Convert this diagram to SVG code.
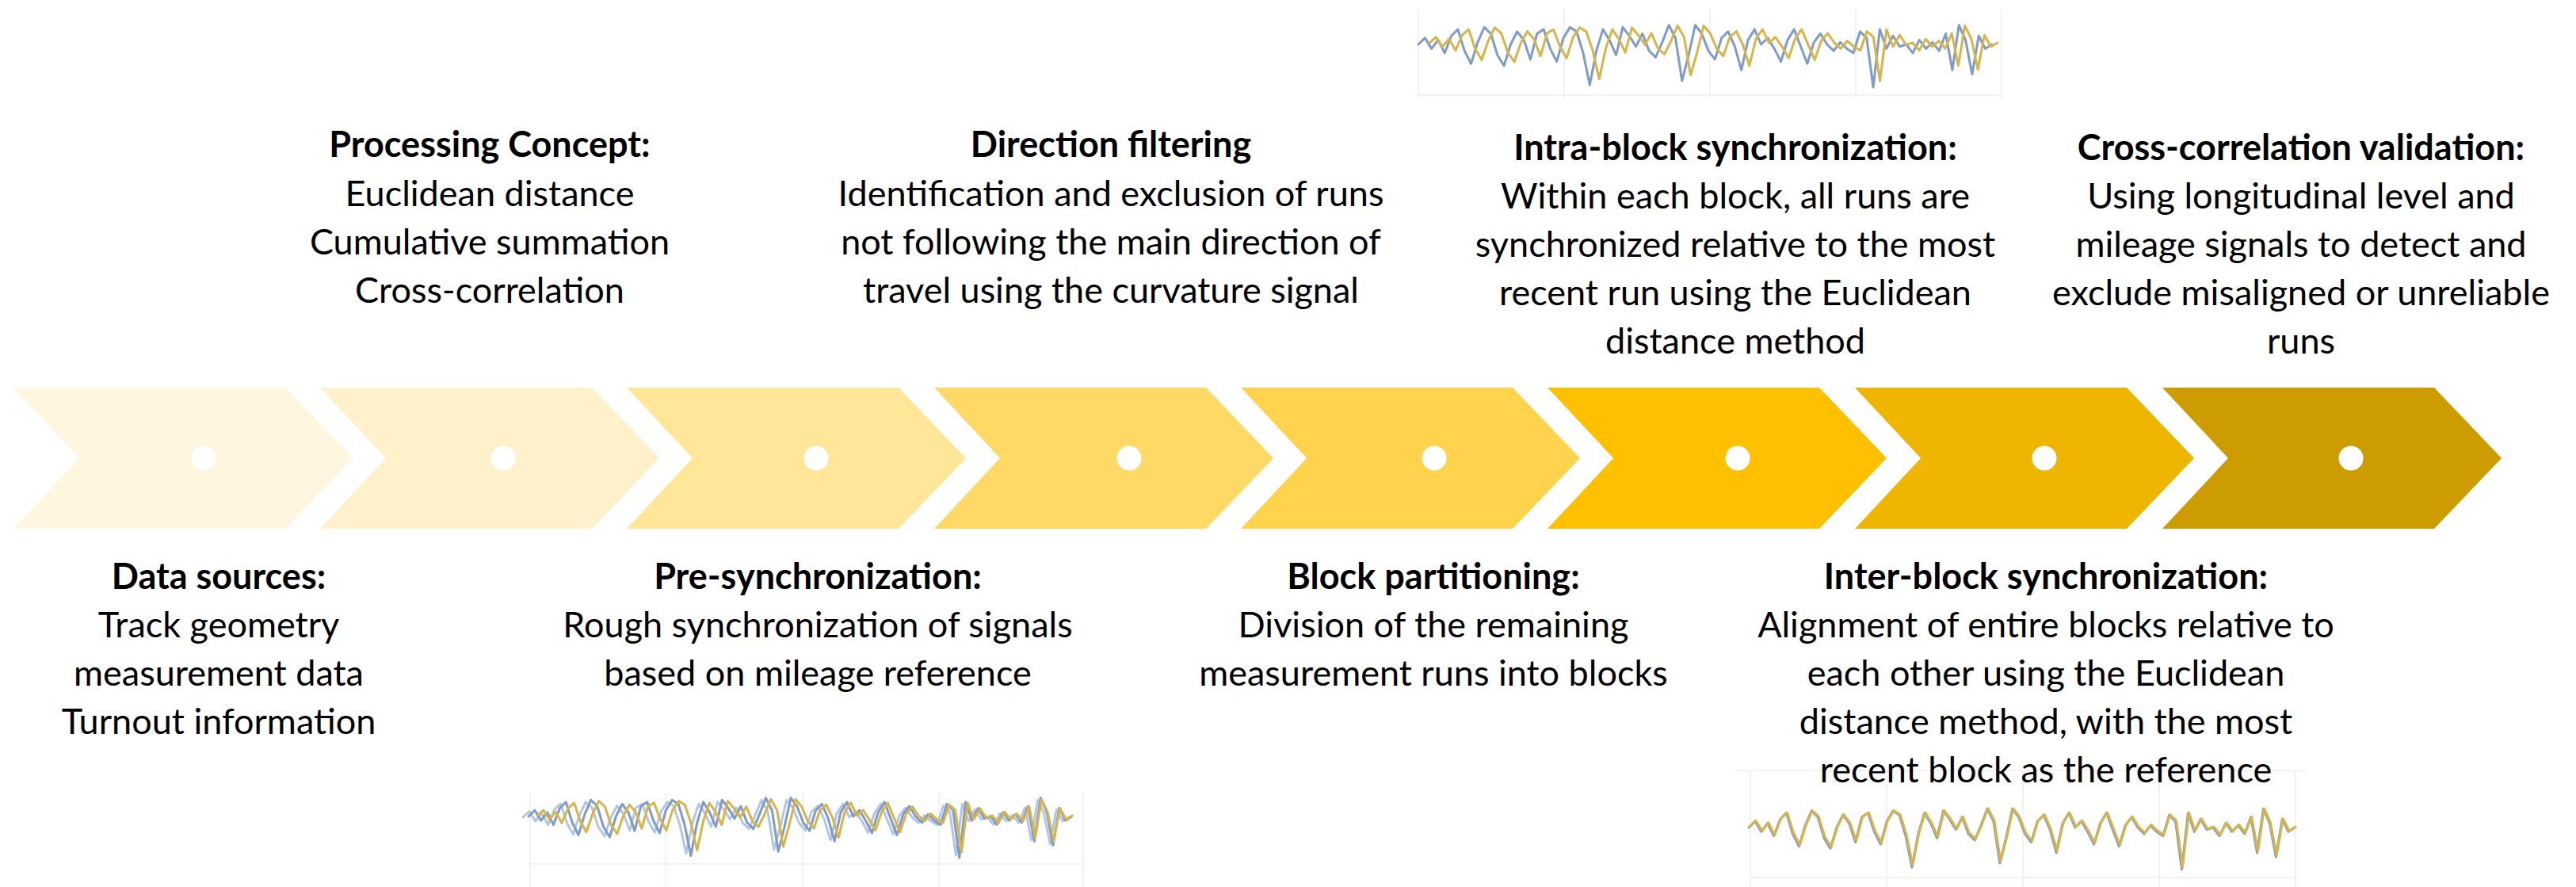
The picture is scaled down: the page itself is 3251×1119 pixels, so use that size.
<svg xmlns="http://www.w3.org/2000/svg" width="3251" height="1119" viewBox="0 0 3251 1119">
<defs>
<style>
.t { font-family: Lato, "Liberation Sans", sans-serif; font-size: 45px; fill: #000; text-anchor: middle; }
.h { font-weight: 700; }
.dot { fill: #fff; }
.grid { stroke: #EEEEEE; stroke-width: 1.5; fill: none; }
.sig { fill: none; stroke-width: 3; stroke-linejoin: round; stroke-linecap: round; }
.blue { stroke: #7F9BC9; }
.gold { stroke: #D9B44A; }
.lblue { stroke: #B3C6E6; }
</style>
<path id="chev" d="M0,0 H343 L428,89 L343,178 H0 L83,89 Z"/>
<path id="sig" vector-effect="non-scaling-stroke" d="M0,0 L8,-6 16,4 24,-4 32,8 40,-8 48,-14 56,6 64,18 72,-2 80,-16 88,-10 96,10 104,20 112,0 120,-12 128,-4 136,14 144,-10 152,-14 160,4 168,16 176,-6 184,-16 192,-12 200,8 208,38 216,6 224,-14 232,-4 240,10 248,-16 256,-8 264,2 272,-10 280,6 288,12 296,-2 304,-18 312,-6 320,34 328,10 336,-18 344,-10 352,6 360,14 368,-6 376,-12 384,2 392,24 400,-4 408,-14 416,0 424,-6 432,4 440,16 448,-4 456,-14 464,2 472,18 480,-2 488,-10 496,0 504,6 512,-2 520,4 528,8 536,-12 544,-6 552,40 560,-14 568,4 576,-8 584,2 592,0 600,8 608,-4 616,4 624,-2 632,6 640,-10 648,24 656,-18 664,-4 672,28 680,-8 688,4 696,0"/>
</defs>
<rect width="3251" height="1119" fill="#fff"/>

<g id="charts">
  <g id="chart-intra">
    <path class="grid" d="M1790,120 H2526 M1790,12 V124 M1974,12 V124 M2158,12 V124 M2342,12 V124 M2526,12 V124"/>
    <use href="#sig" class="sig blue" transform="translate(1790,56) scale(1.04,1.35)"/>
    <use href="#sig" class="sig gold" transform="translate(1804,54) scale(1.03,1.2)"/>
  </g>
  <g id="chart-pre">
    <path class="grid" d="M669,1090 H1367 M669,1000 V1119 M840,1000 V1119 M1013,1000 V1119 M1185,1000 V1119 M1367,1000 V1119"/>
    <use href="#sig" class="sig lblue" transform="translate(660,1031) scale(0.99,1.2)"/>
    <use href="#sig" class="sig blue" transform="translate(667,1030) scale(0.985,1.3)"/>
    <use href="#sig" class="sig gold" transform="translate(678,1029) scale(0.97,1.15)"/>
  </g>
  <g id="chart-inter">
    <path class="grid" d="M2209,1107 H2897 M2209,972 V1119 M2381,972 V1119 M2553,972 V1119 M2725,972 V1119 M2897,972 V1119 M2190,972 H2910"/>
    <use href="#sig" class="sig blue" transform="translate(2207,1044) scale(0.99,1.32)"/>
    <use href="#sig" class="sig gold" transform="translate(2208,1043) scale(0.99,1.28)"/>
  </g>
</g>

<g id="connectors"></g>

<g id="step1"><use href="#chev" transform="translate(17,489)" fill="#FFF6E0"/><circle class="dot" cx="257" cy="578" r="15.5"/></g>
<g id="step2"><use href="#chev" transform="translate(404,489)" fill="#FFF1CB"/><circle class="dot" cx="635" cy="578" r="15.5"/></g>
<g id="step3"><use href="#chev" transform="translate(791,489)" fill="#FFE699"/><circle class="dot" cx="1030" cy="578" r="15.5"/></g>
<g id="step4"><use href="#chev" transform="translate(1179,489)" fill="#FFD966"/><circle class="dot" cx="1425" cy="578" r="15.5"/></g>
<g id="step5"><use href="#chev" transform="translate(1566,489)" fill="#FFD34B"/><circle class="dot" cx="1810" cy="578" r="15.5"/></g>
<g id="step6"><use href="#chev" transform="translate(1953,489)" fill="#FFC000"/><circle class="dot" cx="2193" cy="578" r="15.5"/></g>
<g id="step7"><use href="#chev" transform="translate(2341,489)" fill="#EEB600"/><circle class="dot" cx="2580" cy="578" r="15.5"/></g>
<g id="step8"><use href="#chev" transform="translate(2729,489)" fill="#CC9C00"/><circle class="dot" cx="2967" cy="578" r="15.5"/></g>

<g id="label-processing" class="t">
  <text x="618" y="198" class="h">Processing Concept:</text>
  <text x="618" y="260">Euclidean distance</text>
  <text x="618" y="321">Cumulative summation</text>
  <text x="618" y="382">Cross-correlation</text>
</g>
<g id="label-direction" class="t">
  <text x="1402" y="198" class="h">Direction filtering</text>
  <text x="1402" y="260">Identification and exclusion of runs</text>
  <text x="1402" y="321">not following the main direction of</text>
  <text x="1402" y="382">travel using the curvature signal</text>
</g>
<g id="label-intra" class="t">
  <text x="2190" y="202" class="h">Intra-block synchronization:</text>
  <text x="2190" y="263">Within each block, all runs are</text>
  <text x="2190" y="324">synchronized relative to the most</text>
  <text x="2190" y="385">recent run using the Euclidean</text>
  <text x="2190" y="446">distance method</text>
</g>
<g id="label-crosscorr" class="t">
  <text x="2904" y="202" class="h">Cross-correlation validation:</text>
  <text x="2904" y="263">Using longitudinal level and</text>
  <text x="2904" y="324">mileage signals to detect and</text>
  <text x="2904" y="385">exclude misaligned or unreliable</text>
  <text x="2904" y="446">runs</text>
</g>
<g id="label-data" class="t">
  <text x="276" y="743" class="h">Data sources:</text>
  <text x="276" y="804">Track geometry</text>
  <text x="276" y="865">measurement data</text>
  <text x="276" y="926">Turnout information</text>
</g>
<g id="label-presync" class="t">
  <text x="1032" y="743" class="h">Pre-synchronization:</text>
  <text x="1032" y="804">Rough synchronization of signals</text>
  <text x="1032" y="865">based on mileage reference</text>
</g>
<g id="label-block" class="t">
  <text x="1809" y="743" class="h">Block partitioning:</text>
  <text x="1809" y="804">Division of the remaining</text>
  <text x="1809" y="865">measurement runs into blocks</text>
</g>
<g id="label-inter" class="t">
  <text x="2582" y="743" class="h">Inter-block synchronization:</text>
  <text x="2582" y="804">Alignment of entire blocks relative to</text>
  <text x="2582" y="865">each other using the Euclidean</text>
  <text x="2582" y="926">distance method, with the most</text>
  <text x="2582" y="987">recent block as the reference</text>
</g>
</svg>
